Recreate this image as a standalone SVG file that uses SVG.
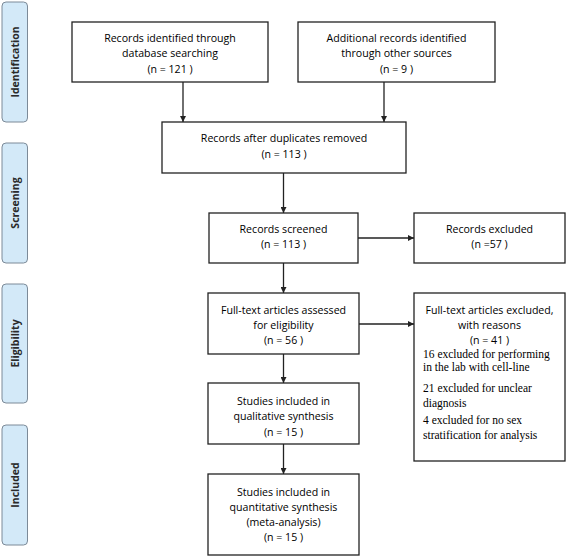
<svg xmlns="http://www.w3.org/2000/svg" width="567" height="557" viewBox="0 0 567 557">
<style>
.box{fill:#fff;stroke:#222;stroke-width:1.3}
.side{fill:#d3e9f8;stroke:#7c8a98;stroke-width:1}
.t{font-family:"Open Sans","Liberation Sans",sans-serif;font-size:10.6px;fill:#000;text-anchor:middle}
.s{font-family:"Liberation Serif",serif;font-size:11.5px;fill:#000}
.lab{font-family:"Open Sans","Liberation Sans",sans-serif;font-size:10.5px;font-weight:bold;fill:#2a2a2a;text-anchor:middle}
.c{stroke:#222;stroke-width:1.3;fill:none;marker-end:url(#ah)}
</style>
<defs>
<marker id="ah" viewBox="0 0 10 10" refX="10" refY="5" markerWidth="6" markerHeight="6" markerUnits="userSpaceOnUse" orient="auto">
<path d="M0,0 L10,5 L0,10 z" fill="#222"/>
</marker>
</defs>
<rect width="567" height="557" fill="#fff"/>
<g id="phase-identification"><rect class="side" x="2" y="2" width="25.5" height="120" rx="4"/><text class="lab" transform="translate(18.5,62) rotate(-90)">Identification</text></g>
<g id="phase-screening"><rect class="side" x="2" y="143" width="25.5" height="120" rx="4"/><text class="lab" transform="translate(18.5,203) rotate(-90)">Screening</text></g>
<g id="phase-eligibility"><rect class="side" x="2" y="284" width="25.5" height="119" rx="4"/><text class="lab" transform="translate(18.5,343.5) rotate(-90)">Eligibility</text></g>
<g id="phase-included"><rect class="side" x="2" y="425" width="25.5" height="120" rx="4"/><text class="lab" transform="translate(18.5,485) rotate(-90)">Included</text></g>
<g id="connectors">
<path class="c" d="M183,82 V122"/>
<path class="c" d="M384,82 V122"/>
<path class="c" d="M283.5,173 V213"/>
<path class="c" d="M358,238 H414"/>
<path class="c" d="M283.5,263 V293"/>
<path class="c" d="M359,324 H414"/>
<path class="c" d="M283.5,354 V383"/>
<path class="c" d="M283.5,444 V474"/>
</g>
<g id="n1"><rect class="box" x="72" y="22" width="196" height="60"/>
<text class="t" x="170" y="42">Records identified through</text>
<text class="t" x="170" y="57">database searching</text>
<text class="t" x="170" y="73">(n = 121  )</text></g>
<g id="n2"><rect class="box" x="298" y="22" width="197" height="60"/>
<text class="t" x="396.5" y="42">Additional records identified</text>
<text class="t" x="396.5" y="57">through other sources</text>
<text class="t" x="396.5" y="73">(n = 9  )</text></g>
<g id="n3"><rect class="box" x="162" y="122" width="244" height="51"/>
<text class="t" x="284" y="142">Records after duplicates removed</text>
<text class="t" x="284" y="158">(n = 113  )</text></g>
<g id="n4"><rect class="box" x="209" y="213" width="149" height="50"/>
<text class="t" x="283.5" y="233">Records screened</text>
<text class="t" x="283.5" y="248">(n = 113  )</text></g>
<g id="n5"><rect class="box" x="414" y="213" width="151" height="50"/>
<text class="t" x="489.5" y="233">Records excluded</text>
<text class="t" x="489.5" y="248">(n =57 )</text></g>
<g id="n6"><rect class="box" x="208" y="293" width="151" height="61"/>
<text class="t" x="283.5" y="314">Full-text articles assessed</text>
<text class="t" x="283.5" y="329">for eligibility</text>
<text class="t" x="283.5" y="344">(n = 56  )</text></g>
<g id="n7"><rect class="box" x="414" y="293" width="151" height="168"/>
<text class="t" x="489.5" y="314">Full-text articles excluded,</text>
<text class="t" x="489.5" y="329">with reasons</text>
<text class="t" x="489.5" y="344">(n = 41 )</text>
<text class="s" x="423" y="358">16 excluded for performing</text>
<text class="s" x="423" y="371">in the lab with cell-line</text>
<text class="s" x="423" y="392">21 excluded for unclear</text>
<text class="s" x="423" y="407">diagnosis</text>
<text class="s" x="423" y="424">4 excluded for no sex</text>
<text class="s" x="423" y="439">stratification for analysis</text></g>
<g id="n8"><rect class="box" x="208" y="383" width="151" height="61"/>
<text class="t" x="283.5" y="405">Studies included in</text>
<text class="t" x="283.5" y="420">qualitative synthesis</text>
<text class="t" x="283.5" y="436">(n = 15  )</text></g>
<g id="n9"><rect class="box" x="208" y="474" width="151" height="81"/>
<text class="t" x="283.5" y="496">Studies included in</text>
<text class="t" x="283.5" y="511">quantitative synthesis</text>
<text class="t" x="283.5" y="526">(meta-analysis)</text>
<text class="t" x="283.5" y="541">(n = 15  )</text></g>
</svg>
